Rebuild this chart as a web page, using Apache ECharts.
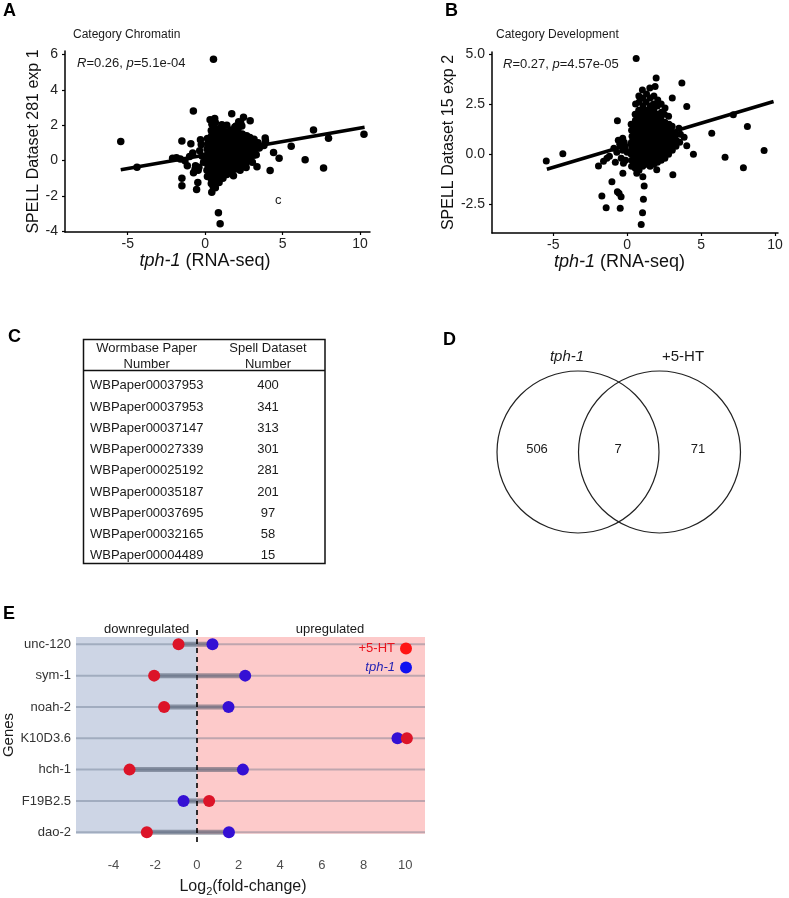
<!DOCTYPE html>
<html><head><meta charset="utf-8">
<script src="https://cdn.jsdelivr.net/npm/echarts@6/dist/echarts.min.js"></script>
<style>html,body{margin:0;padding:0;background:#fff}#c{width:789px;height:898px}</style>
</head><body><div id="c"></div>
<script>
const FONT = '"Liberation Sans", Arial, Helvetica, sans-serif';

// ---------- Panel A : Category Chromatin ----------
const chromatinPoints = [
[-5.45,1.07],[-4.4,-0.38],[-2.1,0.12],[-1.85,0.16],[-1.6,0.08],[-1.5,1.1],[-1.5,-1.0],[-1.5,-1.43],[-1.3,-0.02],[-1.15,-0.3],[-1.0,0.22],[-0.92,0.95],[-0.76,2.8],[-0.8,0.42],[-0.75,-0.7],[-0.62,-0.3],[-0.55,-1.65],[-0.47,-1.25],[-0.4,-0.38],[-0.3,1.17],[-0.35,0.55],[-0.2,0.25],[-0.45,-0.55],[-0.65,-0.5],[-0.1,-0.1],[-0.25,0.9],
[0.43,-1.8],[0.52,-1.48],[0.86,-2.96],[0.97,-3.58],[0.54,5.73],[0.32,2.3],[0.62,2.38],[1.08,2.02],[1.72,2.65],[2.48,2.45],[2.91,2.25],[2.0,1.95],[2.3,2.12],[1.4,2.0],
[1.83,-0.86],[2.26,-0.56],[2.65,-0.4],[4.2,-0.57],[4.42,0.45],[4.78,0.13],[5.56,0.8],[3.8,0.85],[3.88,1.28],[3.12,1.07],[3.5,0.7],[3.05,-0.1],[3.3,0.32],[3.35,-0.35],[3.9,1.1],[6.46,0.04],[7.0,1.73],[7.65,-0.43],[7.97,1.26],[10.26,1.49],
[0.15,-0.9],[0.12,-0.55],[0.18,-0.25],[0.14,0.05],[0.16,0.35],[0.13,0.65],[0.17,0.95],[0.15,1.25],
[0.4,-1.3],[0.38,-1.0],[0.42,-0.7],[0.39,-0.4],[0.41,-0.1],[0.37,0.2],[0.43,0.5],[0.4,0.8],[0.38,1.1],[0.42,1.4],[0.4,1.7],[0.44,2.05],
[0.66,-1.55],[0.64,-1.2],[0.67,-0.9],[0.63,-0.6],[0.65,-0.3],[0.68,0.0],[0.64,0.3],[0.66,0.6],[0.62,0.9],[0.67,1.2],[0.65,1.5],[0.63,1.8],[0.66,2.15],
[0.9,-1.25],[0.92,-0.9],[0.88,-0.6],[0.91,-0.3],[0.89,0.0],[0.93,0.3],[0.9,0.6],[0.87,0.9],[0.92,1.2],[0.9,1.5],[0.88,1.8],
[1.15,-1.0],[1.17,-0.7],[1.13,-0.4],[1.16,-0.1],[1.14,0.2],[1.18,0.5],[1.15,0.8],[1.12,1.1],[1.16,1.4],[1.14,1.7],
[1.4,-0.8],[1.42,-0.5],[1.38,-0.2],[1.41,0.1],[1.39,0.4],[1.43,0.7],[1.4,1.0],[1.37,1.3],[1.41,1.6],
[1.65,-0.7],[1.67,-0.4],[1.63,-0.1],[1.66,0.2],[1.64,0.5],[1.68,0.8],[1.65,1.1],[1.62,1.4],[1.66,1.72],
[1.9,-0.5],[1.92,-0.2],[1.88,0.1],[1.91,0.4],[1.89,0.7],[1.93,1.0],[1.9,1.3],[1.87,1.6],[1.92,1.9],
[2.15,-0.4],[2.17,-0.1],[2.13,0.2],[2.16,0.5],[2.14,0.8],[2.18,1.1],[2.15,1.4],[2.12,1.75],[2.17,2.2],
[2.4,-0.3],[2.42,0.0],[2.38,0.3],[2.41,0.6],[2.39,0.9],[2.43,1.2],[2.4,1.5],[2.37,1.95],
[2.65,-0.1],[2.67,0.2],[2.63,0.5],[2.66,0.8],[2.64,1.1],[2.68,1.4],
[2.9,0.1],[2.92,0.4],[2.88,0.7],[2.91,1.0],[2.89,1.3],
[3.15,0.3],[3.17,0.6],[3.13,0.9],[3.16,1.2],[3.4,0.7],[3.42,1.0]
];
const chromatinFit = [[-5.45,-0.52],[10.3,1.88]];
const chromatinStat = '{i|R}=0.26, {i|p}=5.1e-04';
const xTicksScatter = [-5, 0, 5, 10];
const yTicksChromatin = [-4, -2, 0, 2, 4, 6];

// ---------- Panel B : Category Development ----------
const developmentPoints = [
[-5.47,-0.34],[-4.35,0.02],[-1.94,-0.59],[-1.37,-0.2],[-1.6,-0.35],[-1.03,-1.37],[-1.71,-2.09],[-1.42,-2.67],[-0.66,1.67],[-0.66,-1.87],[-0.55,-1.95],[-0.41,-2.12],[-0.47,-2.7],[-0.29,-0.95],[-0.25,-0.45],
[1.06,-1.12],[1.15,-1.59],[1.1,-2.25],[1.04,-2.92],[0.95,-3.5],[0.65,-0.95],[0.61,4.77],[1.96,3.8],[1.89,3.38],[3.7,3.55],[4.03,2.38],[3.85,0.85],[4.03,0.42],[4.48,0.0],[3.09,-1.03],[2.0,-0.78],
[5.72,1.05],[6.62,-0.15],[7.18,1.97],[7.86,-0.67],[8.13,1.38],[9.26,0.18],
[-0.9,0.3],[-0.7,0.1],[-0.5,0.5],[-0.3,0.2],[-0.4,-0.2],[-0.2,0.6],[-0.6,0.7],[-0.1,-0.3],[0.0,0.1],[-1.2,-0.1],[-0.8,-0.4],[-0.3,0.8],[-0.15,0.35],
[0.3,-0.6],[0.32,-0.3],[0.28,0.0],[0.31,0.3],[0.29,0.6],[0.33,0.9],[0.3,1.2],[0.27,1.5],
[0.55,-0.7],[0.57,-0.4],[0.53,-0.1],[0.56,0.2],[0.54,0.5],[0.58,0.8],[0.55,1.1],[0.52,1.4],[0.56,1.7],[0.54,2.0],[0.57,2.5],
[0.8,-0.8],[0.82,-0.5],[0.78,-0.2],[0.81,0.1],[0.79,0.4],[0.83,0.7],[0.8,1.0],[0.77,1.3],[0.82,1.6],[0.8,1.9],[0.78,2.2],[0.81,2.6],[0.79,2.9],
[1.05,-0.6],[1.07,-0.3],[1.03,0.0],[1.06,0.3],[1.04,0.6],[1.08,0.9],[1.05,1.2],[1.02,1.5],[1.06,1.8],[1.04,2.1],[1.07,2.4],[1.05,2.8],[1.03,3.2],
[1.3,-0.5],[1.32,-0.2],[1.28,0.1],[1.31,0.4],[1.29,0.7],[1.33,1.0],[1.3,1.3],[1.27,1.6],[1.32,1.9],[1.3,2.2],[1.28,2.6],[1.31,3.0],
[1.55,-0.6],[1.57,-0.3],[1.53,0.0],[1.56,0.3],[1.54,0.6],[1.58,0.9],[1.55,1.2],[1.52,1.5],[1.56,1.8],[1.54,2.1],[1.57,2.4],[1.55,2.8],[1.53,3.3],
[1.8,-0.5],[1.82,-0.2],[1.78,0.1],[1.81,0.4],[1.79,0.7],[1.83,1.0],[1.8,1.3],[1.77,1.6],[1.82,1.9],[1.8,2.2],[1.78,2.5],[1.81,2.9],
[2.05,-0.4],[2.07,-0.1],[2.03,0.2],[2.06,0.5],[2.04,0.8],[2.08,1.1],[2.05,1.4],[2.02,1.7],[2.06,2.0],[2.04,2.4],[2.07,2.7],
[2.3,-0.3],[2.32,0.0],[2.28,0.3],[2.31,0.6],[2.29,0.9],[2.33,1.2],[2.3,1.5],[2.27,1.8],[2.32,2.1],[2.3,2.5],
[2.55,-0.2],[2.57,0.1],[2.53,0.4],[2.56,0.7],[2.54,1.0],[2.58,1.3],[2.55,1.6],[2.52,2.0],[2.56,2.3],
[2.8,0.0],[2.82,0.3],[2.78,0.6],[2.81,0.9],[2.79,1.2],[2.83,1.5],[2.8,1.9],
[3.05,0.2],[3.07,0.5],[3.03,0.8],[3.06,1.1],[3.04,1.4],[3.05,2.8],
[3.3,0.4],[3.32,0.7],[3.28,1.0],[3.55,0.6],[3.6,1.0],[3.5,1.3]
];
const developmentFit = [[-5.43,-0.75],[9.9,2.63]];
const developmentStat = '{i|R}=0.27, {i|p}=4.57e-05';
const yTicksDevelopment = [-2.5, 0, 2.5, 5];

// ---------- Panel C : table ----------
const tableHeader = [['Wormbase Paper', 'Number'], ['Spell Dataset', 'Number']];
const paperNumbers = ['WBPaper00037953','WBPaper00037953','WBPaper00037147','WBPaper00027339','WBPaper00025192','WBPaper00035187','WBPaper00037695','WBPaper00032165','WBPaper00004489'];
const spellDatasets = [400, 341, 313, 301, 281, 201, 97, 58, 15];

// ---------- Panel D : Venn ----------
const vennSets = ['tph-1', '+5-HT'];
const vennCounts = [506, 7, 71]; // tph-1 only, both, +5-HT only

// ---------- Panel E : dumbbell ----------
const genes = ['unc-120','sym-1','noah-2','K10D3.6','hch-1','F19B2.5','dao-2'];
const ht5Fold = [-0.88, -2.05, -1.57, 10.08, -3.23, 0.59, -2.4];
const tph1Fold = [0.75, 2.32, 1.52, 9.63, 2.21, -0.64, 1.54];
const xTicksFold = [-4, -2, 0, 2, 4, 6, 8, 10];

const E_XMIN = -5.8, E_XMAX = 10.95, E_YMIN = 0.69, E_YMAX = 7.52;
const geneY = i => genes.length - i;

const chart = echarts.init(document.getElementById('c'), null, {renderer: 'canvas'});

function scatterX(grid, min, max, padRight) {
  return {
    gridIndex: grid, type: 'value', min: min, max: max,
    axisLine: {onZero: false, lineStyle: {color: '#000', width: 1.5}},
    axisTick: {customValues: xTicksScatter, length: 3, lineStyle: {color: '#000', width: 1.2}},
    axisLabel: {customValues: xTicksScatter, fontSize: 14, color: '#222', margin: 5, fontFamily: FONT},
    splitLine: {show: false},
    name: '{i|tph-1} (RNA-seq)', nameLocation: 'middle', nameGap: 19,
    nameTextStyle: {fontSize: 18, color: '#111', fontFamily: FONT, padding: [0, padRight, 0, 0],
      rich: {i: {fontStyle: 'italic', fontSize: 18, color: '#111', fontFamily: FONT}}}
  };
}
function scatterY(grid, min, max, ticks, name, gap, fmt) {
  return {
    gridIndex: grid, type: 'value', min: min, max: max,
    axisLine: {onZero: false, lineStyle: {color: '#000', width: 1.5}},
    axisTick: {customValues: ticks, length: 3, lineStyle: {color: '#000', width: 1.2}},
    axisLabel: {customValues: ticks, fontSize: 14, color: '#222', margin: 7, fontFamily: FONT, formatter: fmt},
    splitLine: {show: false},
    name: name, nameLocation: 'middle', nameGap: gap,
    nameTextStyle: {fontSize: 16, color: '#111', fontFamily: FONT}
  };
}

function txt(text, x, y, size, opts) {
  opts = opts || {};
  return {
    type: 'text', x: x, y: y, silent: true,
    style: Object.assign({
      text: text, fontSize: size, fontFamily: FONT, fill: opts.fill || '#1a1a1a',
      fontWeight: opts.bold ? 'bold' : 'normal', fontStyle: opts.italic ? 'italic' : 'normal',
      align: opts.align || 'left', verticalAlign: 'middle'
    }, opts.rich ? {rich: opts.rich} : {})
  };
}

const graphics = [];
// panel letters
[['A',3,11],['B',445,11],['C',8,337],['D',443,340],['E',3,614.5]].forEach(l => graphics.push(txt(l[0], l[1], l[2], 18, {bold: true, fill: '#000'})));
// scatter titles & stats
graphics.push(txt('Category Chromatin', 73, 34.5, 12));
graphics.push(txt('Category Development', 496, 34.5, 12));
const richI = {i: {fontStyle: 'italic', fontSize: 13, fontFamily: FONT, fill: '#1a1a1a'}};
graphics.push(txt(chromatinStat, 77, 63, 13, {rich: richI}));
graphics.push(txt(developmentStat, 503, 64, 13, {rich: richI}));
graphics.push(txt('c', 275, 200, 13));

// table
const TX0 = 83.5, TX1 = 325, TY0 = 339.5, TY1 = 563.5, THEAD = 370.5;
graphics.push({type: 'rect', silent: true, shape: {x: TX0, y: TY0, width: TX1 - TX0, height: TY1 - TY0}, style: {fill: null, stroke: '#111', lineWidth: 1.5}});
graphics.push({type: 'line', silent: true, shape: {x1: TX0, y1: THEAD, x2: TX1, y2: THEAD}, style: {stroke: '#111', lineWidth: 1.5}});
const colCenters = [146.7, 268];
tableHeader.forEach((h, c) => {
  graphics.push(txt(h[0], colCenters[c], 348, 13, {align: 'center'}));
  graphics.push(txt(h[1], colCenters[c], 364.5, 13, {align: 'center'}));
});
paperNumbers.forEach((p, i) => {
  const y = 385.7 + 21.25 * i;
  graphics.push(txt(p, 90, y, 13));
  graphics.push(txt(String(spellDatasets[i]), colCenters[1], y, 13, {align: 'center'}));
});

// venn
graphics.push({type: 'circle', silent: true, shape: {cx: 578, cy: 452, r: 81}, style: {fill: null, stroke: '#222', lineWidth: 1.2}});
graphics.push({type: 'circle', silent: true, shape: {cx: 659.5, cy: 452, r: 81}, style: {fill: null, stroke: '#222', lineWidth: 1.2}});
graphics.push(txt(vennSets[0], 567, 357, 15, {align: 'center', italic: true}));
graphics.push(txt(vennSets[1], 683, 357, 15, {align: 'center'}));
graphics.push(txt(String(vennCounts[0]), 537, 449, 13, {align: 'center'}));
graphics.push(txt(String(vennCounts[1]), 618, 449, 13, {align: 'center'}));
graphics.push(txt(String(vennCounts[2]), 698, 449, 13, {align: 'center'}));

// E annotations
graphics.push(txt('downregulated', 146.7, 629.5, 13, {align: 'center'}));
graphics.push(txt('upregulated', 330, 629.5, 13, {align: 'center'}));

const hLine = (color, width) => function (params, api) {
  const y = api.value(2);
  const p1 = api.coord([api.value(0), y]);
  const p2 = api.coord([api.value(1), y]);
  return {type: 'line', shape: {x1: p1[0], y1: p1[1], x2: p2[0], y2: p2[1]}, style: {stroke: color, lineWidth: width}};
};

const option = {
  animation: false,
  backgroundColor: '#fff',
  textStyle: {fontFamily: FONT},
  grid: [
    {left: 65, top: 51, width: 305, height: 181},
    {left: 492, top: 52, width: 286, height: 181},
    {left: 76, top: 628, width: 349, height: 215}
  ],
  xAxis: [
    scatterX(0, -9.05, 10.65, 25),
    scatterX(1, -9.14, 10.2, 31),
    {
      gridIndex: 2, type: 'value', min: E_XMIN, max: E_XMAX,
      axisLine: {show: false, onZero: false}, axisTick: {show: false},
      axisLabel: {customValues: xTicksFold, fontSize: 13, color: '#4d4d4d', margin: 17, fontFamily: FONT},
      splitLine: {show: false},
      name: '{a|Log}{s|2}{a|(fold-change)}', nameLocation: 'middle', nameGap: 35,
      nameTextStyle: {padding: [0, 15, 0, 0],
        rich: {a: {fontSize: 16, color: '#1a1a1a', fontFamily: FONT},
               s: {fontSize: 11, color: '#1a1a1a', fontFamily: FONT, padding: [9, 0, 0, 0]}}}
    }
  ],
  yAxis: [
    scatterY(0, -4.05, 6.2, yTicksChromatin, 'SPELL Dataset 281 exp 1', 22, v => String(v)),
    scatterY(1, -3.93, 5.1, yTicksDevelopment, 'SPELL Dataset 15 exp 2', 29, v => v.toFixed(1)),
    {
      gridIndex: 2, type: 'value', min: E_YMIN, max: E_YMAX,
      axisLine: {show: false, onZero: false}, axisTick: {show: false},
      axisLabel: {customValues: genes.map((g, i) => geneY(i)), fontSize: 13, color: '#333', margin: 5, fontFamily: FONT,
        formatter: v => genes[genes.length - Math.round(v)]},
      splitLine: {show: false},
      name: 'Genes', nameLocation: 'middle', nameGap: 60,
      nameTextStyle: {fontSize: 15, color: '#1a1a1a', fontFamily: FONT}
    }
  ],
  legend: {
    data: [
      {name: '+5-HT', itemStyle: {color: '#ff1414'}, textStyle: {color: '#e8141e'}},
      {name: 'tph-1', itemStyle: {color: '#1010f0'}, textStyle: {color: '#2424b4', fontStyle: 'italic'}}
    ],
    orient: 'vertical', align: 'right', right: 377, top: 642, padding: 0,
    itemWidth: 12, itemHeight: 12, itemGap: 6, icon: 'circle', selectedMode: false,
    textStyle: {fontSize: 13, fontFamily: FONT}
  },
  graphic: {elements: graphics},
  series: [
    {type: 'scatter', xAxisIndex: 0, yAxisIndex: 0, data: chromatinPoints, symbolSize: 7.5, itemStyle: {color: '#000', opacity: 1}, z: 2},
    {type: 'line', xAxisIndex: 0, yAxisIndex: 0, data: chromatinFit, symbol: 'none', lineStyle: {color: '#000', width: 3.5}, z: 3},
    {type: 'scatter', xAxisIndex: 1, yAxisIndex: 1, data: developmentPoints, symbolSize: 7, itemStyle: {color: '#000', opacity: 1}, z: 2},
    {type: 'line', xAxisIndex: 1, yAxisIndex: 1, data: developmentFit, symbol: 'none', lineStyle: {color: '#000', width: 3.5}, z: 3},
    {
      type: 'line', xAxisIndex: 2, yAxisIndex: 2, data: [], z: 1, silent: true,
      markArea: {silent: true, data: [
        [{coord: [E_XMIN, 0.95], itemStyle: {color: '#cdd5e5'}}, {coord: [0, 7.23]}],
        [{coord: [0, 0.95], itemStyle: {color: '#fdcaca'}}, {coord: [E_XMAX, 7.23]}]
      ]}
    },
    {type: 'custom', xAxisIndex: 2, yAxisIndex: 2, z: 2, silent: true,
     renderItem: hLine('rgba(90,105,130,0.38)', 2), encode: {x: [0, 1], y: 2},
     data: genes.map((g, i) => [E_XMIN, E_XMAX, geneY(i)])},
    {type: 'custom', xAxisIndex: 2, yAxisIndex: 2, z: 3, silent: true,
     renderItem: hLine('rgba(70,80,100,0.5)', 5), encode: {x: [0, 1], y: 2},
     data: genes.map((g, i) => [ht5Fold[i], tph1Fold[i], geneY(i)])},
    {
      type: 'line', xAxisIndex: 2, yAxisIndex: 2, data: [], z: 4, silent: true,
      markLine: {silent: true, symbol: ['none', 'none'], label: {show: false},
        lineStyle: {color: '#000', width: 1.6, type: [5, 4]}, data: [{xAxis: 0}]}
    },
    {name: 'tph-1', type: 'scatter', xAxisIndex: 2, yAxisIndex: 2, z: 5, symbolSize: 12,
     itemStyle: {color: '#3410d4', opacity: 1}, data: genes.map((g, i) => [tph1Fold[i], geneY(i)])},
    {name: '+5-HT', type: 'scatter', xAxisIndex: 2, yAxisIndex: 2, z: 6, symbolSize: 12,
     itemStyle: {color: '#dc1428', opacity: 1}, data: genes.map((g, i) => [ht5Fold[i], geneY(i)])}
  ]
};
chart.setOption(option);
</script></body></html>
